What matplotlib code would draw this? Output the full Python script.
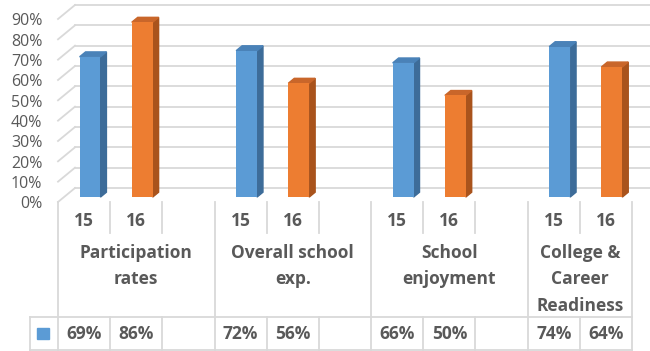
import matplotlib
matplotlib.use("Agg")
import matplotlib.pyplot as plt
from matplotlib.patches import Polygon, Rectangle

# data
groups = ["Participation\nrates", "Overall school\nexp.", "School\nenjoyment", "College &\nCareer\nReadiness"]
years = ["15", "16"]
values = [69, 86, None, 72, 56, None, 66, 50, None, 74, 64]
slot_labels = ["15", "16", "", "15", "16", "", "15", "16", "", "15", "16"]
yticks = [0, 10, 20, 30, 40, 50, 60, 70, 80, 90]

front = {"15": "#5B9BD5", "16": "#ED7D31"}
side = {"15": "#3D6C99", "16": "#A9531C"}
top = {"15": "#4A82B8", "16": "#C9662A"}
grid = "#d9d9d9"
txt = "#595959"

plt.rcParams["font.family"] = ["Open Sans", "DejaVu Sans"]

W, H = 650, 351
fig = plt.figure(figsize=(W / 100, H / 100), dpi=100)

x0, x1 = 58, 632
y_floor, y_top = 202, 19
ax = fig.add_axes([x0 / W, (H - y_floor) / H, (x1 - x0) / W, (y_floor - y_top) / H])
nslot = len(values)
ax.set_xlim(0, nslot)
ax.set_ylim(0, 90)
ax.axis("off")

# depth offset of the back wall in data units
dx = 17 / ((x1 - x0) / nslot)
dy = 14 / ((y_floor - y_top) / 90)

# left wall diagonals + back wall gridlines
for v in yticks:
    ax.plot([0, dx], [v, v + dy], color=grid, lw=1.3, clip_on=False, zorder=1)
    ax.plot([dx, nslot + 2], [v + dy, v + dy], color=grid, lw=1.3, clip_on=False, zorder=1)
    ax.text(-0.3, v - 1.2, f"{v}%", ha="right", va="center", fontsize=11.5,
            color=txt, clip_on=False)

# 3d-ish bars
f0, f1 = 0.35, 0.70
bw = 0.4
xs, hs, cs, yrs = [], [], [], []
for i, v in enumerate(values):
    if v is None:
        continue
    xs.append(i + 0.5 + f0 * dx)
    hs.append(v)
    yrs.append(slot_labels[i])
bars = ax.bar(xs, hs, width=bw, bottom=f0 * dy,
              color=[front[y] for y in yrs], zorder=3, clip_on=False)
ddx, ddy = (f1 - f0) * dx, (f1 - f0) * dy
for b, y in zip(bars, yrs):
    l, r = b.get_x(), b.get_x() + b.get_width()
    bot, t = b.get_y(), b.get_y() + b.get_height()
    ax.add_patch(Polygon([(r, bot), (r + ddx, bot + ddy), (r + ddx, t + ddy), (r, t)],
                         closed=True, color=side[y], zorder=2, clip_on=False))
    ax.add_patch(Polygon([(l, t), (r, t), (r + ddx, t + ddy), (l + ddx, t + ddy)],
                         closed=True, color=top[y], zorder=2, clip_on=False))

# data table below
tax = fig.add_axes([x0 / W, 0, (x1 - x0) / W, (H - y_floor) / H])
tax.set_xlim(0, nslot)
tax.set_ylim(H, y_floor)
tax.axis("off")
px = (x1 - x0) / nslot
lx = -(x0 - 30) / px  # left edge of legend cell
row_top, row_bot = 317, 350
for i in range(nslot + 1):
    if i % 3 == 0 or i == nslot:
        tax.plot([i, i], [y_floor, row_bot], color=grid, lw=1.3, clip_on=False)
    else:
        tax.plot([i, i], [y_floor, 233], color=grid, lw=1.3, clip_on=False)
        tax.plot([i, i], [row_top, row_bot], color=grid, lw=1.3, clip_on=False)
tax.plot([lx, lx], [row_top, row_bot], color=grid, lw=1.3, clip_on=False)
for yy in (row_top, row_bot):
    tax.plot([lx, nslot], [yy, yy], color=grid, lw=1.3, clip_on=False)

fs = 12.5
for i, lab in enumerate(slot_labels):
    if lab:
        tax.text(i + 0.5, 221, lab, ha="center", va="center", fontsize=fs,
                 fontweight="bold", color=txt)
    if values[i] is not None:
        tax.text(i + 0.5, 334, f"{values[i]}%", ha="center", va="center",
                 fontsize=fs, fontweight="bold", color=txt)
for g, name in enumerate(groups):
    g0 = g * 3
    g1 = min(g0 + 3, nslot)
    for k, line in enumerate(name.split("\n")):
        tax.text((g0 + g1) / 2, 253 + 26.5 * k, line, ha="center", va="center",
                 fontsize=fs, fontweight="bold", color=txt)

sq = 12 / px
tax.add_patch(Rectangle((lx + 7 / px, 328), sq, 11, color=front["15"], clip_on=False))

fig.savefig("out.png", dpi=100)
